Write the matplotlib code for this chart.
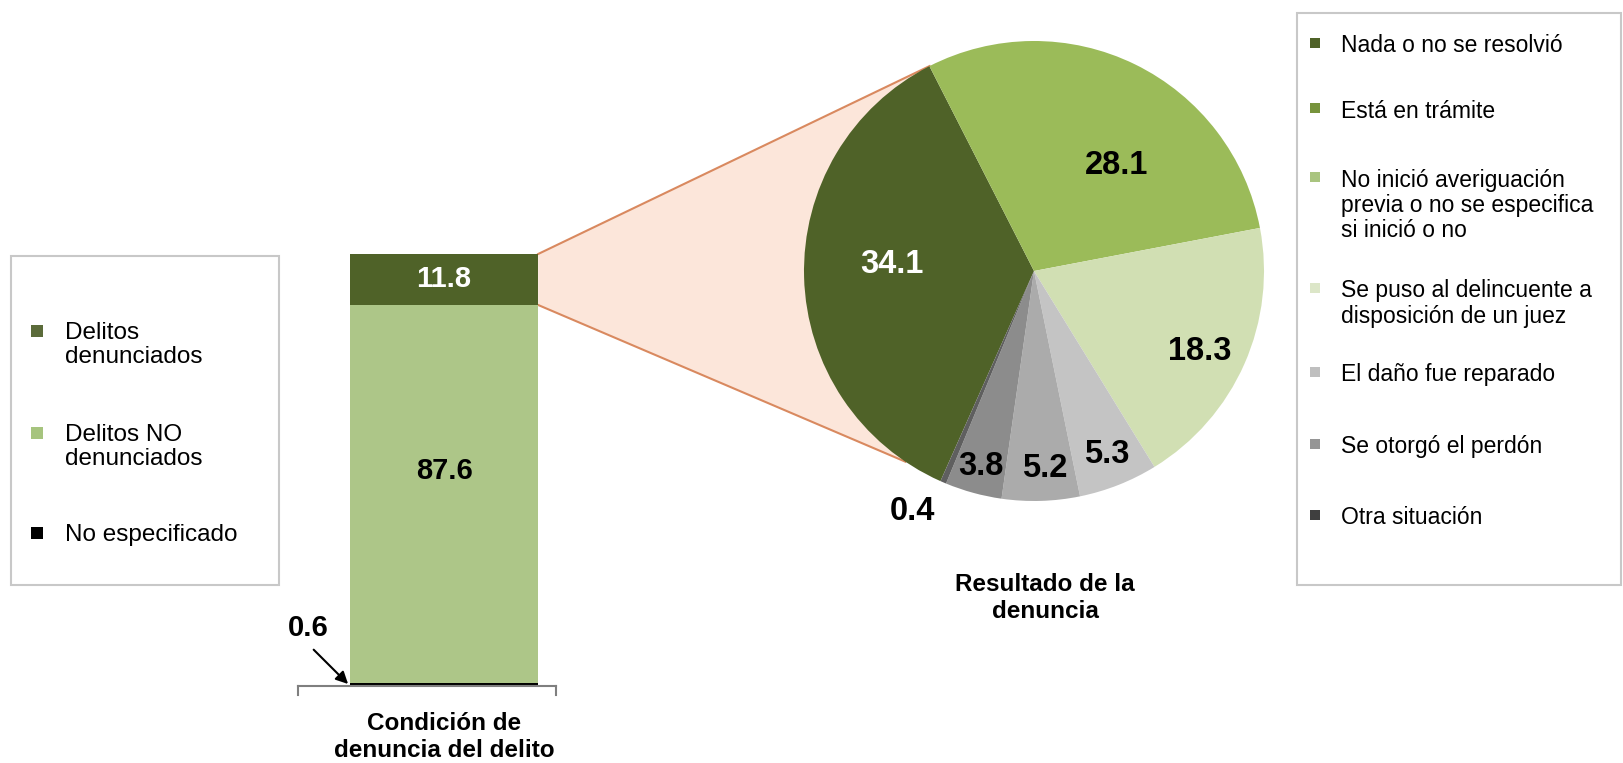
import numpy as np
import matplotlib
matplotlib.use("Agg")
import matplotlib.pyplot as plt
from matplotlib.patches import Rectangle, Polygon

plt.rcParams['font.family'] = ['Liberation Sans', 'DejaVu Sans']

# datos
condicion_cat = ['No especificado', 'Delitos NO\ndenunciados', 'Delitos\ndenunciados']
condicion_val = [0.6, 87.6, 11.8]
condicion_colores = ['#000000', '#ADC688', '#4F6228']
condicion_eje = 'Condición de\ndenuncia del delito'

resultado_cat = ['Nada o no se resolvió', 'Está en trámite',
                 'No inició averiguación\nprevia o no se especifica\nsi inició o no',
                 'Se puso al delincuente a\ndisposición de un juez',
                 'El daño fue reparado', 'Se otorgó el perdón', 'Otra situación']
resultado_val = [34.1, 28.1, 18.3, 5.3, 5.2, 3.8, 0.4]
pie_colores = ['#4F6228', '#9BBB59', '#D1DFB3', '#C4C4C4', '#ABABAB', '#8C8C8C', '#5F5F5F']
leyenda_colores = ['#4F6228', '#77933C', '#A9C47F', '#DCE6C8', '#BFBFBF', '#959595', '#3F3F3F']
resultado_titulo = 'Resultado de la\ndenuncia'

W, H = 1623, 763
fig = plt.figure(figsize=(W / 100, H / 100), dpi=100)

# fondo en pixeles (y hacia abajo)
ax_bg = fig.add_axes([0, 0, 1, 1])
ax_bg.set_xlim(0, W)
ax_bg.set_ylim(H, 0)
ax_bg.axis('off')

# barra apilada
ax_bar = fig.add_axes([298 / W, 1 - 686 / H, 258 / W, 432 / H])
ax_bar.patch.set_visible(False)
ax_bar.set_xlim(-0.777, 0.595)
ax_bar.set_ylim(0, 100)
fondo = 0
for v, c in zip(condicion_val, condicion_colores):
    ax_bar.bar(0, v, width=1, bottom=fondo, color=c, linewidth=0)
    fondo += v
ax_bar.text(0, condicion_val[0] + condicion_val[1] + condicion_val[2] / 2, f"{condicion_val[2]:.1f}",
            ha='center', va='center', color='white', fontsize=21, fontweight='bold')
ax_bar.text(0, condicion_val[0] + condicion_val[1] * 0.56, f"{condicion_val[1]:.1f}",
            ha='center', va='center', color='black', fontsize=21, fontweight='bold')
for s in ['top', 'left', 'right']:
    ax_bar.spines[s].set_visible(False)
ax_bar.spines['bottom'].set_color('#7F7F7F')
ax_bar.spines['bottom'].set_linewidth(1.5)
ax_bar.set_yticks([])
ax_bar.set_xticks([0], [condicion_eje])
ax_bar.tick_params(axis='x', length=0, pad=19)
for t in ax_bar.get_xticklabels():
    t.set_fontsize(17.5)
    t.set_fontweight('bold')
x0, x1 = ax_bar.get_xlim()
for xx in (x0, x1):
    ax_bar.plot([xx, xx], [0, -2], color='#7F7F7F', lw=1.5, clip_on=False)

# pastel
cx, cy, r = 1034, 271, 230
ax_pie = fig.add_axes([(cx - r) / W, 1 - (cy + r) / H, 2 * r / W, 2 * r / H])
ax_pie.patch.set_visible(False)
wedges, _ = ax_pie.pie(resultado_val, colors=pie_colores, startangle=246, counterclock=False,
                       radius=1, wedgeprops=dict(linewidth=0))
ax_pie.set_xlim(-1, 1)
ax_pie.set_ylim(-1, 1)

lab_r = [0.62, 0.58, 0.8, 0.86, 0.86, 0.88, 1.17]
lab_dang = [-4, -12, -2, 0, 1.5, 0, -3.5]
for i, w in enumerate(wedges):
    ang = np.deg2rad((w.theta1 + w.theta2) / 2 + lab_dang[i])
    ax_pie.text(lab_r[i] * np.cos(ang), lab_r[i] * np.sin(ang), f"{resultado_val[i]:.1f}",
                ha='center', va='center', fontsize=23.5, fontweight='bold',
                color='white' if i == 0 else 'black', clip_on=False)

# conector entre la barra y el pastel
def a_fondo(ax, pt):
    return ax_bg.transData.inverted().transform(ax.transData.transform(pt))

arriba = condicion_val[0] + condicion_val[1] + condicion_val[2]
b1 = a_fondo(ax_bar, (0.5, arriba))
b2 = a_fondo(ax_bar, (0.5, arriba - condicion_val[2]))
p1 = a_fondo(ax_pie, (np.cos(np.deg2rad(117)), np.sin(np.deg2rad(117))))
p2 = a_fondo(ax_pie, (np.cos(np.deg2rad(236)), np.sin(np.deg2rad(236))))
ax_bg.add_patch(Polygon([b1, p1, p2, b2], closed=True, facecolor='#FCE6DA', edgecolor='none'))
ax_bg.plot([b1[0], p1[0]], [b1[1], p1[1]], color='#D9895F', lw=1.5)
ax_bg.plot([b2[0], p2[0]], [b2[1], p2[1]], color='#D9895F', lw=1.5)

# 0.6 con flecha
esq = a_fondo(ax_bar, (-0.5, 0))
ax_bg.annotate(f"{condicion_val[0]:.1f}", xy=(esq[0] - 2, esq[1] - 2), xytext=(308, 628),
               ha='center', va='center', fontsize=21, fontweight='bold',
               arrowprops=dict(arrowstyle='-|>', color='black', lw=1.5, mutation_scale=18,
                               relpos=(0.45, 0), shrinkA=5, shrinkB=0))

ax_bg.text(1045, 598, resultado_titulo, ha='center', va='center', fontsize=17.5,
           fontweight='bold', linespacing=1.25)

# leyenda izquierda
ax_bg.add_patch(Rectangle((11, 256), 268, 329, facecolor='none', edgecolor='#C8C8C8', lw=1.5))
izq_y = [331, 433, 533]
izq_colores = ['#5B6B3A', '#A6C47E', '#000000']
for i, (cat, y) in enumerate(zip(condicion_cat[::-1], izq_y)):
    ax_bg.add_patch(Rectangle((31, y - 6), 12, 12, facecolor=izq_colores[i], edgecolor='none'))
    ax_bg.text(65, y - 9, cat, ha='left', va='top', fontsize=17.5, linespacing=1.12)

# leyenda derecha
ax_bg.add_patch(Rectangle((1297, 13), 324, 572, facecolor='none', edgecolor='#C8C8C8', lw=1.5,
                          clip_on=False))
der_y = [43, 108, 177, 288, 372, 444, 515]
for cat, c, y in zip(resultado_cat, leyenda_colores, der_y):
    ax_bg.add_patch(Rectangle((1310, y - 5), 10, 10, facecolor=c, edgecolor='none'))
    ax_bg.text(1341, y - 8.5, cat, ha='left', va='top', fontsize=16.5, linespacing=1.12)

fig.savefig('out.png', dpi=100)
